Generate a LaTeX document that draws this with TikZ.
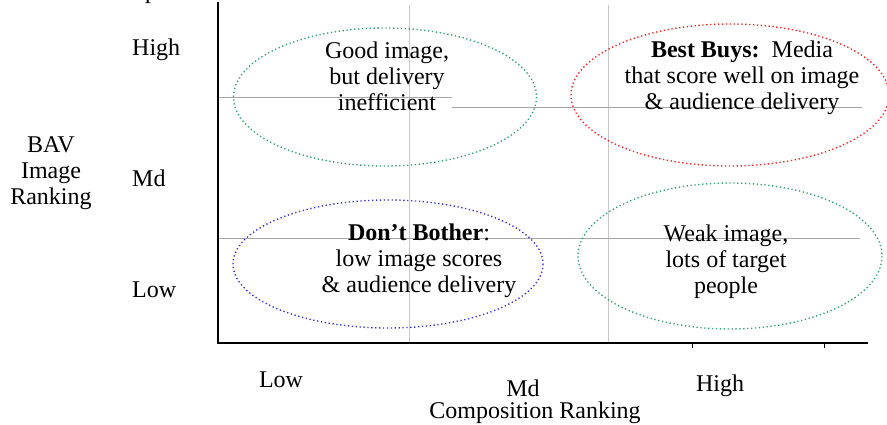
\documentclass[tikz,border=0pt]{standalone}
\usepackage{fontspec}
\setmainfont{Liberation Serif}
\begin{document}
\begin{tikzpicture}[x=1pt,y=1pt,yscale=-1,xscale=1,
  lbl/.style={font=\fontsize{24}{26}\selectfont, align=center, inner sep=0pt},
  gridv/.style={draw={rgb,255:red,200;green,200;blue,200}, line width=0.6pt},
  gridh/.style={draw={rgb,255:red,165;green,165;blue,165}, line width=0.6pt},
  dotty/.style={line width=1.4pt, dash pattern=on 1.3pt off 2.6pt}]
\useasboundingbox (0,0) rectangle (887,425);

%Straight Lines: grid
\draw [gridv] (409,5) -- (409,343) ;
\draw [gridv] (608,5) -- (608,343) ;
\draw [gridh] (218,97) -- (452,97) ;
\draw [gridh] (452,107) -- (862,107) ;
\draw [gridh] (218,238) -- (860,238) ;

%Shape: Ellipse
\draw [dotty, color={rgb, 255:red, 50; green, 165; blue, 110 }] (385,97) ellipse (151.5 and 69) ;
%Shape: Ellipse
\draw [dotty, color={rgb, 255:red, 255; green, 30; blue, 30 }] (730,95) ellipse (159 and 71) ;
%Shape: Ellipse
\draw [dotty, color={rgb, 255:red, 50; green, 50; blue, 235 }] (388,264) ellipse (155 and 64) ;
%Shape: Ellipse
\draw [dotty, color={rgb, 255:red, 50; green, 165; blue, 110 }] (730,256) ellipse (152 and 73) ;

%Straight Lines: axes
\draw [line width=1.4pt] (218,2) -- (218,343) -- (868,343) ;
\draw [line width=0.8pt] (692,343) -- (692,348) ;
\draw [line width=0.8pt] (824,343) -- (824,348) ;

%Texts
\node [lbl] (goodimg) at (387,76) {Good image,\\but delivery\\inefficient};
\node [lbl] (bestbuys) at (742,78) {\textbf{Best Buys:}~~Media\\that score well on image\\\& audience delivery};
\node [lbl] (dontbother) at (419,261) {\textbf{Don’t Bother}:\\low image scores\\\& audience delivery};
\node [lbl] (weakimg) at (726,262) {Weak image,\\lots of target\\people};

\node [lbl] (ytitle) at (51,173) {BAV\\Image\\Ranking};
\node [lbl, anchor=base west] (ytop) at (145,-1) {p};
\node [lbl, anchor=west] (yhigh) at (132,50) {High};
\node [lbl, anchor=west] (ymd) at (132,178) {Md};
\node [lbl, anchor=west] (ylow) at (132,290) {Low};

\node [lbl] (xlow) at (281,380) {Low};
\node [lbl] (xmd) at (523,388) {Md};
\node [lbl] (xhigh) at (720,386) {High};
\node [lbl] (xtitle) at (535,413) {Composition Ranking};

\end{tikzpicture}
\end{document}
